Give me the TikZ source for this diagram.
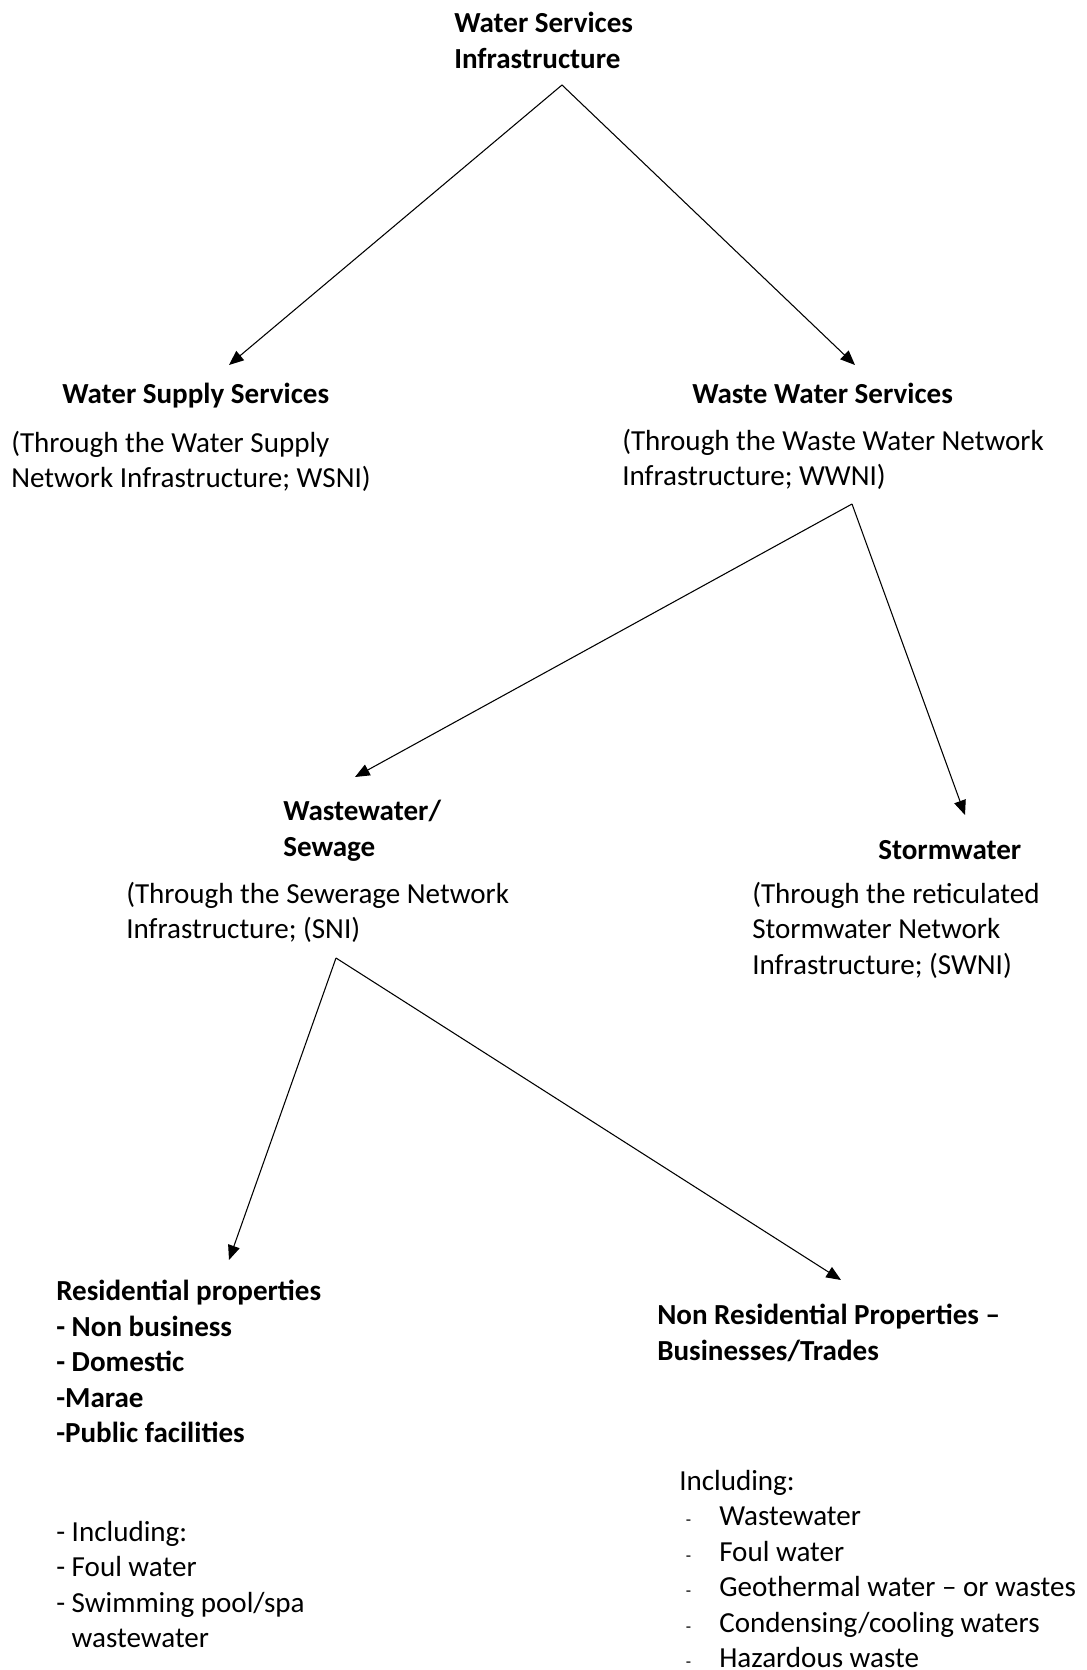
\documentclass[tikz,border=0pt]{standalone}
\usepackage{fontspec}
\setmainfont{Carlito}
\usetikzlibrary{arrows.meta}

\tikzset{
  lbl/.style={anchor=north west, inner sep=0pt, align=left, font=\fontsize{21.8}{26.6}\selectfont},
  head/.style={lbl, font=\fontsize{21.8}{26.6}\selectfont\bfseries},
  arr/.style={-{Triangle[length=11pt,width=9pt]}, line width=0.8pt},
}
\newcommand{\itemdash}{\hspace*{5pt}\makebox[25pt][l]{\fontsize{13}{13}\selectfont -}}

\begin{document}
\begin{tikzpicture}[x=0.75pt, y=-0.75pt]

    \useasboundingbox[fill=white] (0,0) rectangle (1086,1670);

    % level 0
    \node[head] (wsi) at (454,12) {Water Services\\Infrastructure};

    % level 1
    \node[head] (wss) at (62,383) {Water Supply Services};
    \node[lbl] (wsni) at (11,431) {(Through the Water Supply\\Network Infrastructure; WSNI)};
    \node[head] (wws) at (692,383) {Waste Water Services};
    \node[lbl] (wwni) at (622,429) {(Through the Waste Water Network\\Infrastructure; WWNI)};

    % level 2
    \node[head] (sew) at (283,800) {Wastewater/\\Sewage};
    \node[lbl] (sni) at (126,882) {(Through the Sewerage Network\\Infrastructure; (SNI)};
    \node[head] (storm) at (878,840) {Stormwater};
    \node[lbl] (swni) at (752,882) {(Through the reticulated\\Stormwater Network\\Infrastructure; (SWNI)};

    % level 3
    \node[head] (res) at (56,1280) {Residential properties\\- Non business\\- Domestic\\-Marae\\-Public facilities};
    \node[lbl] (resinc) at (56,1521) {- Including:\\- Foul water\\- Swimming pool/spa\\\phantom{- }wastewater};
    \node[head] (nonres) at (657,1304) {Non Residential Properties --\\Businesses/Trades};
    \node[lbl] (nonresinc) at (679,1470) {Including:\\
        \itemdash Wastewater\\
        \itemdash Foul water\\
        \itemdash Geothermal water -- or wastes\\
        \itemdash Condensing/cooling waters\\
        \itemdash Hazardous waste};

    % connector ends
    \coordinate (wsi-out) at (562,85);
    \coordinate (wss-in) at (229,365);
    \coordinate (wws-in) at (855,365);
    \coordinate (wwni-out) at (852,504);
    \coordinate (sew-in) at (355,777);
    \coordinate (storm-in) at (965,815);
    \coordinate (sni-out) at (336,958);
    \coordinate (res-in) at (229,1260);
    \coordinate (nonres-in) at (841,1280);

    \draw[arr] (wsi-out) -- (wss-in);
    \draw[arr] (wsi-out) -- (wws-in);
    \draw[arr] (wwni-out) -- (sew-in);
    \draw[arr] (wwni-out) -- (storm-in);
    \draw[arr] (sni-out) -- (res-in);
    \draw[arr] (sni-out) -- (nonres-in);

\end{tikzpicture}
\end{document}
